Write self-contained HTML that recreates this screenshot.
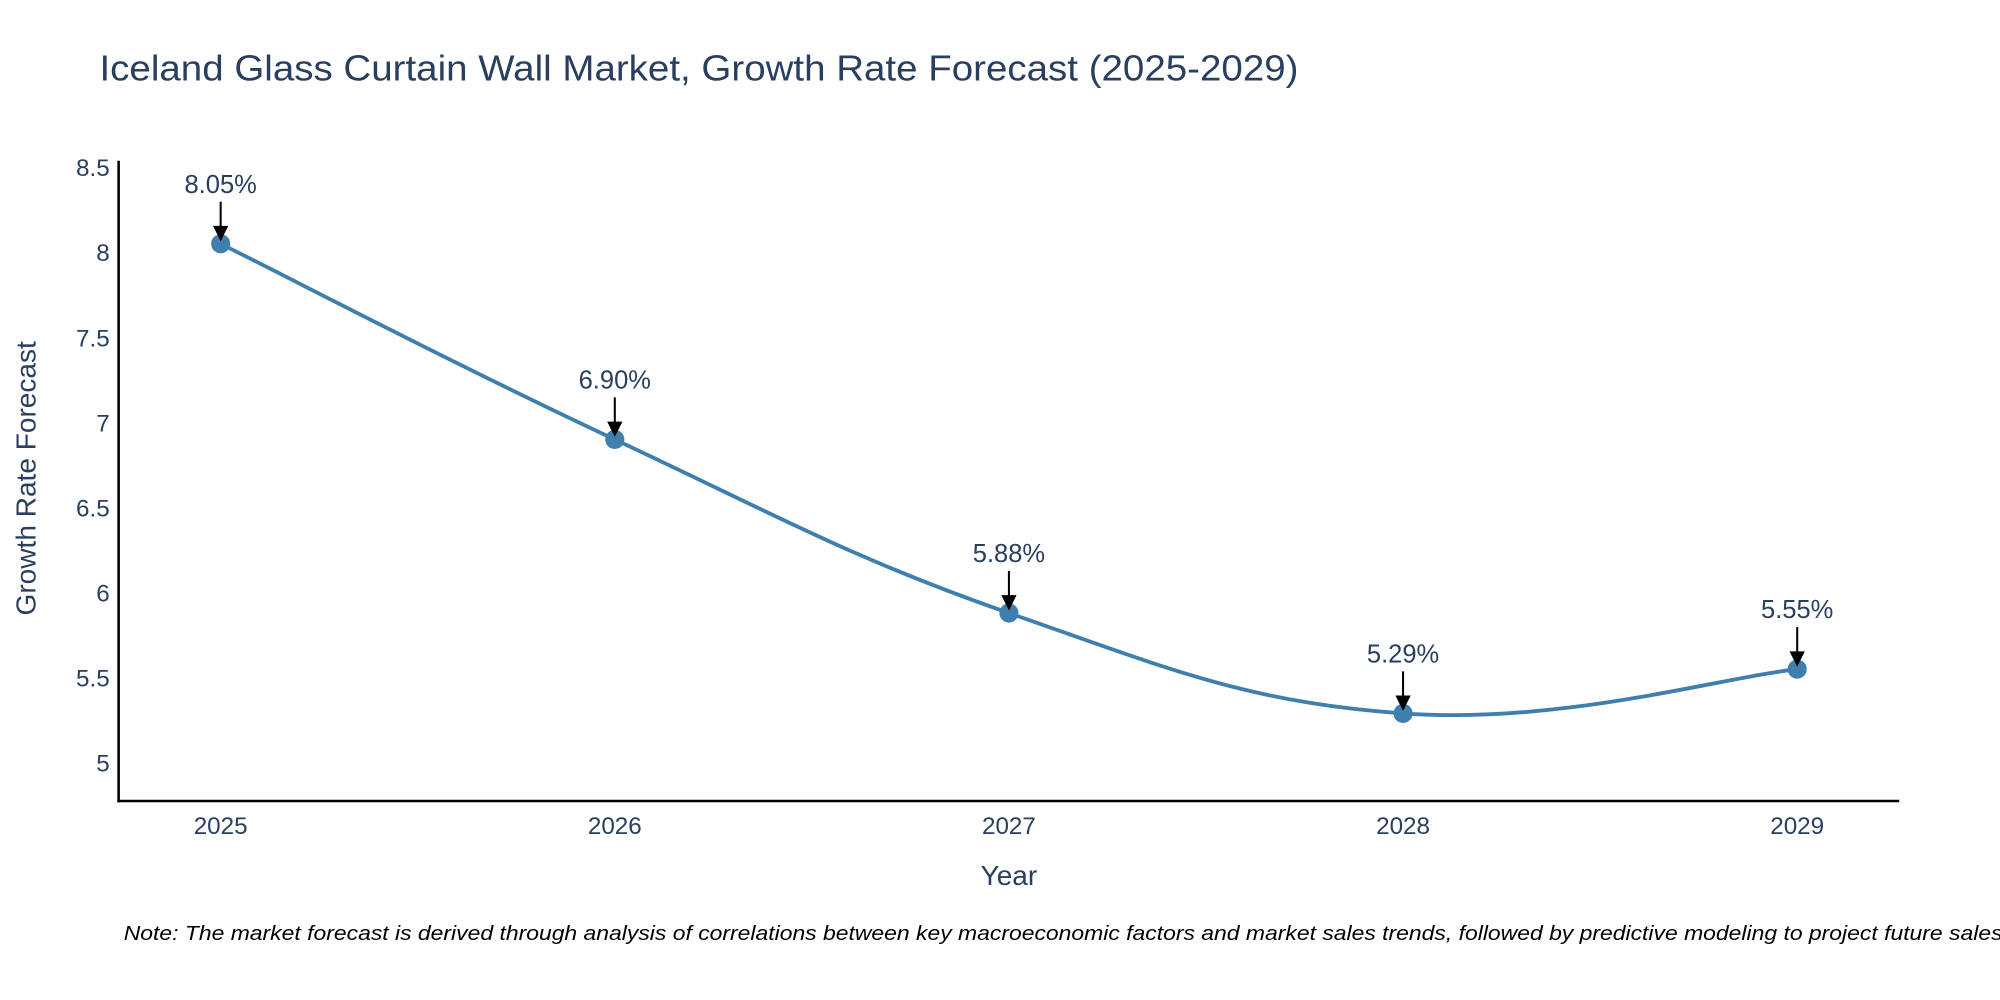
<!DOCTYPE html>
<html><head><meta charset="utf-8"><style>
html,body{margin:0;padding:0;background:#fff;}
svg{display:block;font-family:"Liberation Sans",sans-serif;}
</style></head><body>
<svg id="chart" width="2000" height="1000" viewBox="0 0 1568 784" xmlns="http://www.w3.org/2000/svg">
<rect width="1568" height="784" fill="#fff"/>
<text x="78" y="63" font-size="28" fill="#2a3f5f" textLength="940" lengthAdjust="spacingAndGlyphs">Iceland Glass Curtain Wall Market, Growth Rate Forecast (2025-2029)</text>
<g id="yticks"></g><g id="xticks"></g>
<line x1="93" y1="126" x2="93" y2="629" stroke="#000" stroke-width="2"/>
<line x1="92" y1="628" x2="1489" y2="628" stroke="#000" stroke-width="2"/>
<text x="791" y="694" font-size="22" fill="#2a3f5f" text-anchor="middle">Year</text>
<text transform="translate(28,375) rotate(-90)" font-size="22" fill="#2a3f5f" text-anchor="middle">Growth Rate Forecast</text>
<g id="series"></g>
<text x="97" y="737" font-size="16" font-style="italic" fill="#000" textLength="1478" lengthAdjust="spacingAndGlyphs">Note: The market forecast is derived through analysis of correlations between key macroeconomic factors and market sales trends, followed by predictive modeling to project future sales.</text>
</svg>
<script>
const years = [2025, 2026, 2027, 2028, 2029];
const rates = [8.05, 6.90, 5.88, 5.29, 5.55];
const labels = ["8.05%", "6.90%", "5.88%", "5.29%", "5.55%"];
const yTicks = [5, 5.5, 6, 6.5, 7, 7.5, 8, 8.5];
const yTickLabels = ["5", "5.5", "6", "6.5", "7", "7.5", "8", "8.5"];

const NS = "http://www.w3.org/2000/svg";
function xs(v){ return 173 + (v - 2025) * (1409 - 173) / 4; }
function ys(v){ return 598 - (v - 5) * 133.4; }
function mk(tag, attrs, parent){ const e = document.createElementNS(NS, tag); for (const k in attrs) e.setAttribute(k, attrs[k]); parent.appendChild(e); return e; }

const yg = document.getElementById("yticks");
yTicks.forEach((t, i) => {
  const e = mk("text", {x: 86, y: ys(t) + 7, "font-size": 19, fill: "#2a3f5f", "text-anchor": "end"}, yg);
  
  
  e.textContent = yTickLabels[i];
});
const xg = document.getElementById("xticks");
years.forEach(y => {
  const e = mk("text", {x: xs(y), y: 654, "font-size": 19, fill: "#2a3f5f", "text-anchor": "middle"}, xg);
  
  
  e.textContent = String(y);
});

const sg = document.getElementById("series");
const pts = years.map((y, i) => [xs(y), ys(rates[i])]);
let d = "M" + pts[0][0] + "," + pts[0][1];
const tension = 0.2;
for (let i = 0; i < pts.length - 1; i++) {
  const p0 = pts[Math.max(0, i - 1)], p1 = pts[i], p2 = pts[i + 1], p3 = pts[Math.min(pts.length - 1, i + 2)];
  const c1 = [p1[0] + (p2[0] - p0[0]) * tension, p1[1] + (p2[1] - p0[1]) * tension];
  const c2 = [p2[0] - (p3[0] - p1[0]) * tension, p2[1] - (p3[1] - p1[1]) * tension];
  d += " C" + c1[0] + "," + c1[1] + " " + c2[0] + "," + c2[1] + " " + p2[0] + "," + p2[1];
}
const line = mk("path", {d: d, fill: "none", stroke: "#3f7fae", "stroke-width": 3}, sg);


pts.forEach((p, i) => {
  const c = mk("circle", {cx: p[0], cy: p[1], r: 7.5, fill: "#3f7fae"}, sg);
  
  
  const a = mk("line", {x1: p[0], y1: p[1] - 33, x2: p[0], y2: p[1] - 13, stroke: "#000", "stroke-width": 1.6}, sg);
  
  
  const h = mk("path", {d: "M" + (p[0] - 6) + "," + (p[1] - 14) + " L" + (p[0] + 6) + "," + (p[1] - 14) + " L" + p[0] + "," + (p[1] - 2) + " Z", fill: "#000"}, sg);
  
  
  const t = mk("text", {x: p[0], y: p[1] - 40, "font-size": 20, fill: "#2a3f5f", "text-anchor": "middle"}, sg);
  
  
  t.textContent = labels[i];
});
</script>
</body></html>
